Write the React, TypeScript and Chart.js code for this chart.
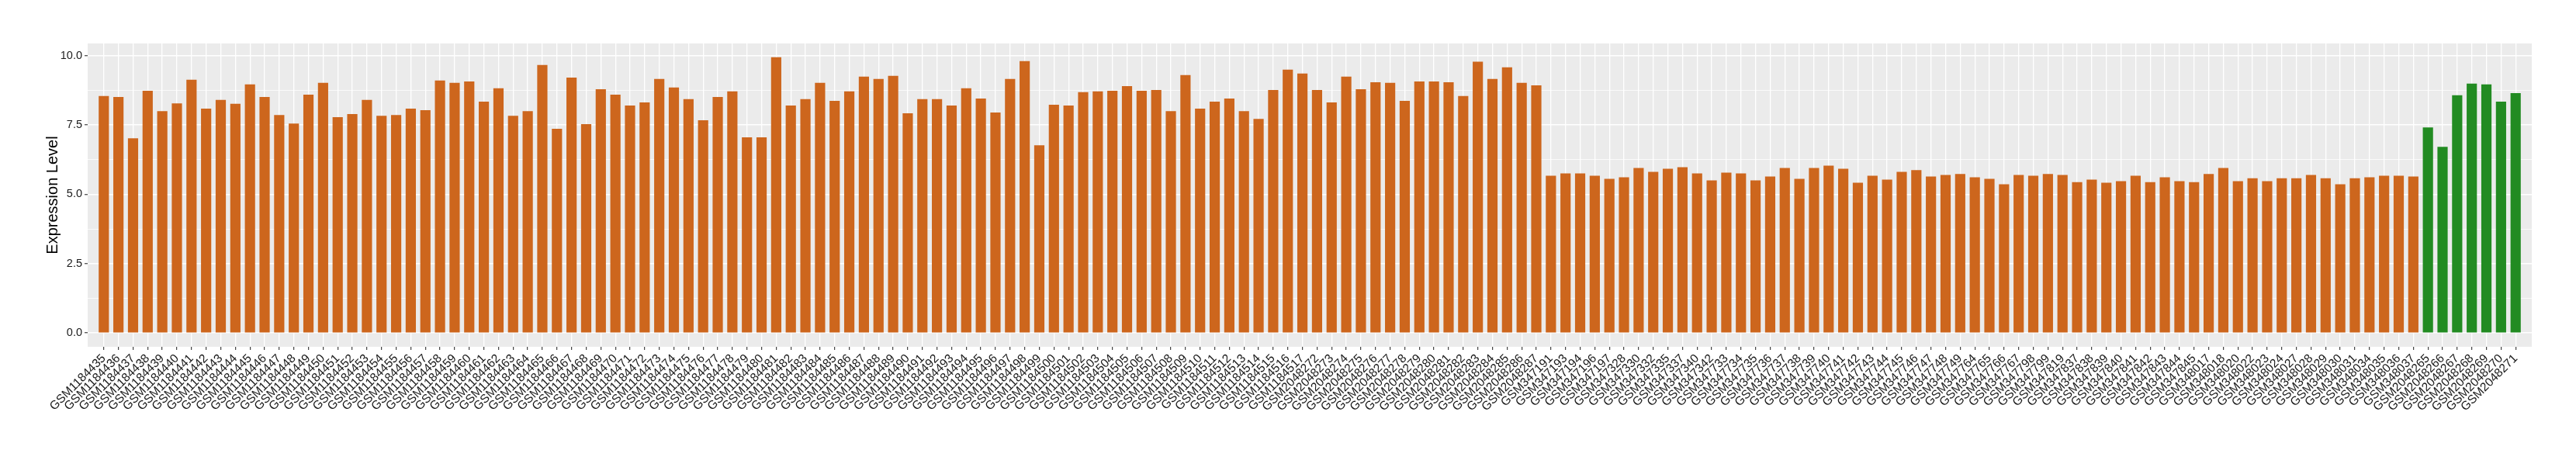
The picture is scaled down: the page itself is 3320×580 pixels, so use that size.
import React, { useEffect, useRef } from "react";
import { Chart, registerables } from "chart.js";

Chart.register(...registerables);

const orangeSamples: string[] = [
  "GSM1184435","GSM1184436","GSM1184437","GSM1184438","GSM1184439","GSM1184440","GSM1184441","GSM1184442","GSM1184443","GSM1184444",
  "GSM1184445","GSM1184446","GSM1184447","GSM1184448","GSM1184449","GSM1184450","GSM1184451","GSM1184452","GSM1184453","GSM1184454",
  "GSM1184455","GSM1184456","GSM1184457","GSM1184458","GSM1184459","GSM1184460","GSM1184461","GSM1184462","GSM1184463","GSM1184464",
  "GSM1184465","GSM1184466","GSM1184467","GSM1184468","GSM1184469","GSM1184470","GSM1184471","GSM1184472","GSM1184473","GSM1184474",
  "GSM1184475","GSM1184476","GSM1184477","GSM1184478","GSM1184479","GSM1184480","GSM1184481","GSM1184482","GSM1184483","GSM1184484",
  "GSM1184485","GSM1184486","GSM1184487","GSM1184488","GSM1184489","GSM1184490","GSM1184491","GSM1184492","GSM1184493","GSM1184494",
  "GSM1184495","GSM1184496","GSM1184497","GSM1184498","GSM1184499","GSM1184500","GSM1184501","GSM1184502","GSM1184503","GSM1184504",
  "GSM1184505","GSM1184506","GSM1184507","GSM1184508","GSM1184509","GSM1184510","GSM1184511","GSM1184512","GSM1184513","GSM1184514",
  "GSM1184515","GSM1184516","GSM1184517",
  "GSM2048272","GSM2048273","GSM2048274","GSM2048275","GSM2048276","GSM2048277","GSM2048278","GSM2048279","GSM2048280","GSM2048281",
  "GSM2048282","GSM2048283","GSM2048284","GSM2048285","GSM2048286","GSM2048287",
  "GSM347191","GSM347193","GSM347194","GSM347196","GSM347197","GSM347328","GSM347330","GSM347332","GSM347335","GSM347337",
  "GSM347340","GSM347342",
  "GSM347733","GSM347734","GSM347735","GSM347736","GSM347737","GSM347738","GSM347739","GSM347740","GSM347741","GSM347742",
  "GSM347743","GSM347744","GSM347745","GSM347746","GSM347747","GSM347748","GSM347749",
  "GSM347764","GSM347765","GSM347766","GSM347767",
  "GSM347798","GSM347799","GSM347819",
  "GSM347837","GSM347838","GSM347839","GSM347840","GSM347841","GSM347842","GSM347843","GSM347844","GSM347845",
  "GSM348017","GSM348018","GSM348020","GSM348022","GSM348023","GSM348024","GSM348027","GSM348028","GSM348029","GSM348030",
  "GSM348031","GSM348034","GSM348035","GSM348036","GSM348037",
];

const orangeValues: number[] = [
  8.54, 8.51, 7.02, 8.73, 8.00, 8.28, 9.13, 8.09, 8.40, 8.26, 8.96, 8.51, 7.86, 7.55, 8.59, 9.02, 7.78, 7.89, 8.40, 7.83,
  7.86, 8.09, 8.03, 9.10, 9.02, 9.07, 8.34, 8.82, 7.83, 8.00, 9.66, 7.36, 9.21,
  7.53, 8.79, 8.59, 8.20, 8.31, 9.16, 8.85, 8.43, 7.67, 8.51, 8.71, 7.05, 7.05, 9.94, 8.20, 8.43, 9.02, 8.37,
  8.71, 9.24, 9.16, 9.27, 7.92, 8.43, 8.43, 8.20, 8.82, 8.45, 7.95, 9.16, 9.80, 6.77, 8.23,
  8.20, 8.68, 8.71, 8.73, 8.90, 8.73, 8.76, 8.00, 9.30, 8.09, 8.34, 8.45, 8.00, 7.72, 8.76, 9.49, 9.35,
  8.76, 8.31, 9.24, 8.79, 9.04, 9.02, 8.37, 9.07, 9.07, 9.04, 8.54, 9.78, 9.16, 9.58, 9.02, 8.93,
  5.67, 5.75, 5.75, 5.67, 5.56, 5.61, 5.95, 5.81, 5.92, 5.98, 5.75, 5.50, 5.78, 5.75, 5.50, 5.64, 5.95,
  5.56, 5.95, 6.03, 5.92, 5.42, 5.67, 5.53, 5.81, 5.87, 5.64, 5.70, 5.73, 5.61, 5.56, 5.36, 5.70, 5.67,
  5.73, 5.70, 5.44, 5.53, 5.42, 5.47, 5.67, 5.44, 5.61, 5.47, 5.44, 5.73, 5.95, 5.47, 5.58, 5.47, 5.58,
  5.58, 5.70, 5.58, 5.36, 5.58, 5.61, 5.67, 5.67, 5.64,
];

const greenSamples: string[] = [
  "GSM2048265","GSM2048266","GSM2048267","GSM2048268","GSM2048269","GSM2048270","GSM2048271",
];
const greenValues: number[] = [7.41, 6.71, 8.57, 8.99, 8.96, 8.34, 8.65];

const yGridValues: number[] = [0, 1.25, 2.5, 3.75, 5, 6.25, 7.5, 8.75, 10];
const yMajorTicks: number[] = [0, 2.5, 5, 7.5, 10];

const categories = [...orangeSamples, ...greenSamples];

const ORANGE = "#CD661D";
const GREEN = "#228B22";
const FONT = "'Liberation Sans', Arial, Helvetica, sans-serif";

const panelBg = {
  id: "panelBg",
  beforeDraw(chart: any) {
    const { ctx, chartArea } = chart;
    ctx.save();
    ctx.fillStyle = "#EBEBEB";
    ctx.fillRect(chartArea.left, chartArea.top, chartArea.width, chartArea.height);
    ctx.restore();
  },
};

const isMajor = (v: number) => yMajorTicks.includes(v);

export default function App() {
  const ref = useRef<HTMLCanvasElement | null>(null);

  useEffect(() => {
    if (!ref.current) return;
    const allValues = [...orangeValues, ...greenValues];
    const maxV = Math.max(...allValues);
    const expand = maxV * 0.05;
    const n = categories.length;

    const chart = new Chart(ref.current, {
      type: "bar",
      data: {
        datasets: [
          {
            label: "orange",
            data: orangeValues.map((v, i) => ({ x: i, y: v })),
            backgroundColor: ORANGE,
            borderWidth: 0,
            grouped: false,
            categoryPercentage: 1,
            barPercentage: 0.7,
          } as any,
          {
            label: "green",
            data: greenValues.map((v, i) => ({ x: orangeValues.length + i, y: v })),
            backgroundColor: GREEN,
            borderWidth: 0,
            grouped: false,
            categoryPercentage: 1,
            barPercentage: 0.7,
          } as any,
        ],
      },
      options: {
        animation: false,
        responsive: false,
        devicePixelRatio: 1,
        layout: { padding: { top: 56, right: 57, bottom: 0, left: 0 } },
        plugins: {
          legend: { display: false },
          tooltip: { enabled: false },
        },
        scales: {
          x: {
            type: "linear",
            min: -0.6,
            max: n - 1 + 0.6,
            afterBuildTicks: (scale: any) => {
              scale.ticks = categories.map((_, i) => ({ value: i }));
            },
            afterFit: (scale: any) => {
              scale.height = 133;
            },
            border: { display: false },
            grid: {
              color: "#FFFFFF",
              lineWidth: 1.3,
              tickColor: "#333333",
              tickLength: 4,
              tickWidth: 1.1,
              offset: false,
            },
            ticks: {
              autoSkip: false,
              maxRotation: 45,
              minRotation: 45,
              padding: 2,
              color: "#1A1A1A",
              font: { family: FONT, size: 15.5 },
              callback: (v: any) => categories[Math.round(Number(v))] ?? "",
            },
          },
          y: {
            type: "linear",
            min: -expand,
            max: maxV + expand,
            afterBuildTicks: (scale: any) => {
              scale.ticks = yGridValues.map((v) => ({ value: v }));
            },
            afterFit: (scale: any) => {
              scale.width = 113;
            },
            border: { display: false },
            grid: {
              color: "#FFFFFF",
              lineWidth: (ctx: any) => (ctx.tick && isMajor(ctx.tick.value) ? 1.5 : 0.75),
              tickColor: (ctx: any) => (ctx.tick && isMajor(ctx.tick.value) ? "#333333" : "rgba(0,0,0,0)"),
              tickLength: 4,
              tickWidth: 1.1,
            },
            ticks: {
              autoSkip: false,
              padding: 3,
              color: "#1A1A1A",
              font: { family: FONT, size: 14.5 },
              callback: (v: any) => (isMajor(Number(v)) ? Number(v).toFixed(1) : ""),
            },
            title: {
              display: true,
              text: "Expression Level",
              color: "#000000",
              font: { family: FONT, size: 20 },
              padding: { top: 56, bottom: 0 },
            },
          },
        },
      },
      plugins: [panelBg],
    });
    return () => chart.destroy();
  }, []);

  return (
    <div style={{ position: "fixed", left: 0, top: 0, width: 3320, height: 580, background: "#FFFFFF" }}>
      <canvas ref={ref} width={3320} height={580} style={{ display: "block", width: 3320, height: 580 }} />
    </div>
  );
}
